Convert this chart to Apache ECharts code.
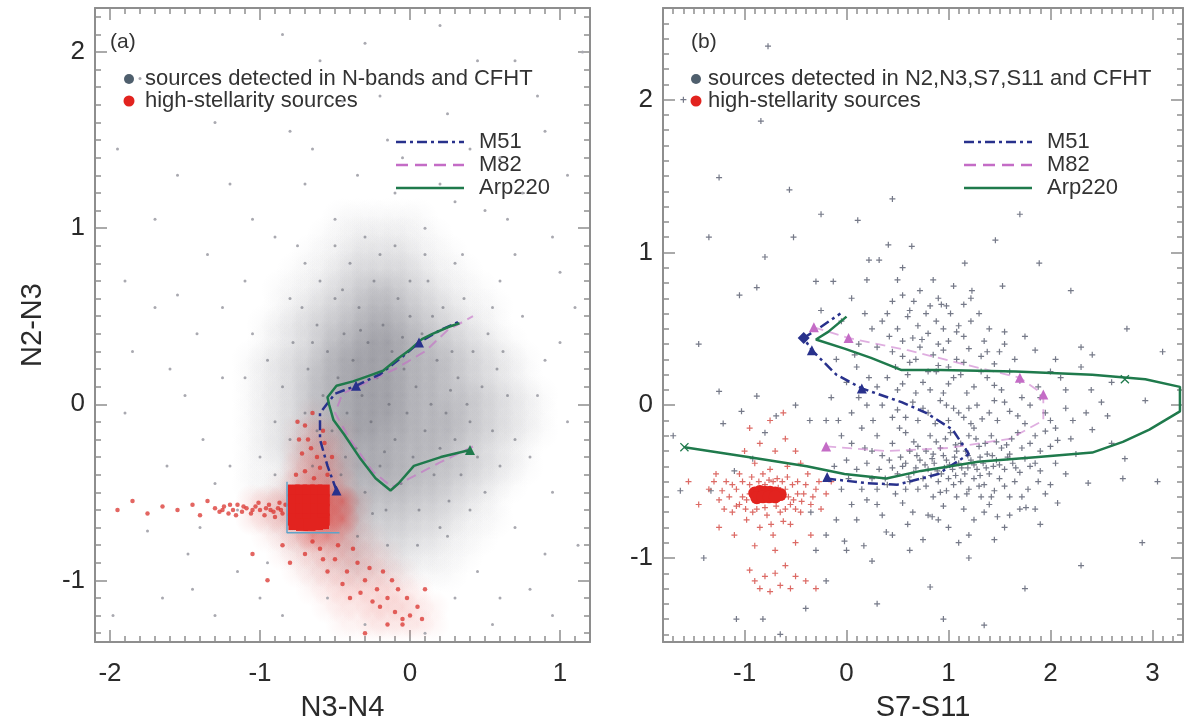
<!DOCTYPE html>
<html>
<head>
<meta charset="utf-8">
<script src="https://cdn.jsdelivr.net/npm/echarts@6/dist/echarts.min.js"></script>
<style>
  html, body { margin: 0; padding: 0; background: #fff; }
  #chart { width: 1193px; height: 727px; }
</style>
</head>
<body>
<div id="chart"></div>
<script>
// ---------- axes ----------
const xRangeA = [-2.1, 1.2];
const yRangeA = [-1.35, 2.25];
const xRangeB = [-1.8, 3.3];
const yRangeB = [-1.55, 2.6];
const xTicksA = [-2, -1, 0, 1];
const yTicksA = [-1, 0, 1, 2];
const xTicksB = [-1, 0, 1, 2, 3];
const yTicksB = [-1, 0, 1, 2];

// ---------- panel (a): source density (cells of 0.1 x 0.1, value 0-9) ----------
// gray field: first column starts at x=-1.2, first row is the cell just below y=1.1
const grayFieldAOrigin = [-1.2, 1.1];
const grayFieldA = [
  "000000011111100000000",
  "000000112222110000000",
  "000001123333211000000",
  "000011234444321100000",
  "000112345665432110000",
  "000123456776543211000",
  "001234567887654321000",
  "001234678998765432100",
  "012345789998776543210",
  "012346789998776543210",
  "012346789998776654321",
  "012346789998777654321",
  "012345789988777654321",
  "012345678887776543210",
  "011234678887766543210",
  "011234567777665432100",
  "001234567666554321000",
  "001223456555443211000",
  "000122345444332110000",
  "000011234333221100000",
  "000001123222111000000"
];
// red (high-stellarity) field: first column x=-1.3, first row just below y=0.0
const redFieldAOrigin = [-1.3, 0.0];
const redFieldA = [
  "000000100000000",
  "000001321000000",
  "000002441000000",
  "000003552000000",
  "000014663000000",
  "002345998200000",
  "002345998200000",
  "000124775210000",
  "000012344321000",
  "000001233332100",
  "000000123333210",
  "000000012233321",
  "000000001122221"
];
const redBlobA = [
  [-0.775, -0.49], [-0.725, -0.49], [-0.675, -0.49], [-0.625, -0.49], [-0.575, -0.49],
  [-0.775, -0.545], [-0.725, -0.545], [-0.675, -0.545], [-0.625, -0.545], [-0.575, -0.545],
  [-0.775, -0.6], [-0.725, -0.6], [-0.675, -0.6], [-0.625, -0.6], [-0.575, -0.6],
  [-0.775, -0.655], [-0.725, -0.655], [-0.675, -0.655], [-0.625, -0.655], [-0.575, -0.655],
  [-0.77, -0.68], [-0.72, -0.685], [-0.67, -0.685], [-0.62, -0.68], [-0.58, -0.675]
];
const redSparseA = [
  // faint tail of the horizontal stellar streak
  [-1.95, -0.6], [-1.85, -0.55], [-1.75, -0.62], [-1.65, -0.58], [-1.55, -0.6],
  [-1.45, -0.57], [-1.4, -0.63], [-1.35, -0.55],
  // streak
  [-1.3, -0.59], [-1.27, -0.61], [-1.24, -0.58], [-1.21, -0.62], [-1.18, -0.6], [-1.15, -0.57], [-1.12, -0.61],
  [-1.09, -0.59], [-1.06, -0.62], [-1.03, -0.58], [-1.0, -0.6], [-0.97, -0.63], [-0.94, -0.57], [-0.91, -0.61],
  [-0.88, -0.59], [-0.85, -0.62], [-0.83, -0.57], [-1.16, -0.63], [-1.01, -0.56], [-0.9, -0.64], [-0.96, -0.59],
  [-1.11, -0.58], [-1.2, -0.57], [-0.87, -0.56], [-1.05, -0.6], [-0.93, -0.6], [-1.25, -0.6], [-0.86, -0.6],
  // above the stellar clump
  [-0.75, -0.1], [-0.68, -0.2], [-0.62, -0.3], [-0.7, -0.38], [-0.58, -0.15], [-0.65, -0.05],
  [-0.55, -0.4], [-0.72, -0.28], [-0.76, -0.4], [-0.6, -0.36], [-0.66, -0.25], [-0.74, -0.2],
  [-0.52, -0.3], [-0.7, -0.12], [-0.64, -0.42], [-0.57, -0.22],
  // tail towards the lower right
  [-0.6, -0.82], [-0.5, -0.88], [-0.42, -0.95], [-0.35, -0.9], [-0.3, -1.0], [-0.22, -1.05],
  [-0.15, -1.1], [-0.1, -1.18], [-0.25, -1.12], [-0.45, -1.02], [-0.55, -0.95], [-0.7, -0.85],
  [0.0, -1.2], [-0.08, -1.05], [-0.38, -0.82], [-0.18, -0.95], [-0.65, -0.78], [-0.48, -0.8],
  [-0.33, -1.07], [-0.2, -1.15], [-0.05, -1.22], [-0.12, -1.0], [-0.27, -0.93], [-0.4, -1.1],
  [-0.58, -0.88], [-0.02, -1.1], [0.05, -1.15], [-0.85, -0.8], [-0.8, -0.9], [-0.95, -1.0],
  [-0.3, -1.3], [0.1, -1.05], [-0.05, -1.25], [-1.05, -0.85], [0.08, -1.22], [-0.15, -1.25]
];
const graySparseA = [
  [-1.95, 1.45], [-1.7, 1.05], [-1.55, 0.62], [-1.85, 0.3], [-1.9, -0.05], [-1.62, -0.35],
  [-1.75, -0.72], [-1.45, -1.05], [-1.98, -1.2], [-1.3, 1.6], [-1.2, 1.25], [-1.35, 0.85],
  [-1.1, 0.7], [-1.42, 0.4], [-1.25, 0.15], [-1.5, 0.05], [-1.38, -0.2], [-1.2, -0.35],
  [-1.48, -0.85], [-1.15, -0.95], [-1.3, -1.2], [-0.95, 1.85], [-0.8, 1.55], [-0.6, 1.95],
  [-0.45, 1.72], [-0.3, 2.05], [-0.15, 1.5], [0.05, 1.85], [0.25, 1.65], [0.45, 1.95],
  [0.6, 1.4], [0.85, 1.75], [1.05, 1.3], [0.95, 0.95], [1.1, 0.55], [0.9, 0.25],
  [1.05, -0.1], [0.95, -0.5], [1.12, -0.8], [0.8, -1.05], [0.55, -1.25], [0.3, -1.1],
  [0.1, -1.3], [-0.3, -1.25], [-0.55, -1.1], [-0.85, -1.2], [-1.05, 1.05], [-0.7, 1.25],
  [-0.35, 1.3], [-0.1, 1.2], [0.2, 1.25], [0.5, 1.1], [0.7, 0.85], [0.75, 0.5],
  [0.8, -0.3], [0.7, -0.7], [0.45, -0.95], [-0.9, 0.95], [-1.05, 0.4], [-1.15, -0.6],
  [-0.95, -0.9], [0.65, 1.05], [-0.5, 1.05], [0.1, 1.0], [0.35, 0.85], [-0.75, 0.9],
  [-1.25, 0.55], [-1.6, 0.2], [-1.8, 1.85], [1.15, 2.0], [0.9, 1.55], [-0.2, 1.75],
  [0.4, 1.45], [-1.55, 1.3], [-0.85, 2.1], [0.2, 2.15], [0.7, 1.95], [1.0, 0.75],
  [-1.9, 0.7], [-1.65, -1.1], [0.95, -1.2], [0.6, 0.7], [-1.0, -1.1], [0.85, 0.05],
  [-1.3, -0.45], [-1.1, 0.15], [-1.0, -0.3], [0.9, -0.85], [1.0, 0.35], [0.75, 1.2],
  [-0.65, 1.45], [-0.05, 1.4], [0.3, 1.15], [-1.4, -0.7], [-1.7, 0.55], [0.6, -1.1]
];
const grainA = [
  [-0.85, 0.1], [-0.8, -0.2], [-0.78, 0.35], [-0.72, 0.55], [-0.7, -0.05], [-0.68, 0.2], [-0.65, -0.35], [-0.62, 0.45],
  [-0.6, 0.7], [-0.58, 0.05], [-0.55, 0.3], [-0.52, -0.15], [-0.5, 0.6], [-0.48, 0.15], [-0.46, -0.4], [-0.44, 0.4],
  [-0.42, -0.05], [-0.4, 0.8], [-0.38, 0.25], [-0.36, -0.25], [-0.34, 0.55], [-0.32, 0.05], [-0.3, -0.5], [-0.28, 0.35],
  [-0.26, -0.1], [-0.24, 0.7], [-0.22, 0.15], [-0.2, -0.35], [-0.18, 0.45], [-0.16, -0.6], [-0.14, 0.0], [-0.12, 0.3],
  [-0.1, -0.2], [-0.08, 0.6], [-0.06, -0.45], [-0.04, 0.2], [-0.02, -0.05], [0.0, 0.5], [0.02, -0.3], [0.04, 0.1],
  [0.06, -0.6], [0.08, 0.4], [0.1, -0.15], [0.12, 0.7], [0.14, 0.0], [0.16, -0.4], [0.18, 0.25], [0.2, -0.25],
  [0.22, 0.55], [0.24, -0.05], [0.26, -0.55], [0.28, 0.3], [0.3, -0.2], [0.32, 0.15], [0.34, -0.4], [0.36, 0.6],
  [0.38, 0.0], [0.4, -0.1], [0.42, 0.3], [0.45, -0.3], [0.48, 0.1], [0.5, -0.5], [0.52, 0.4], [0.55, -0.15],
  [0.58, 0.2], [0.6, -0.35], [0.65, 0.05], [0.7, -0.2], [-0.9, -0.4], [-0.95, 0.25], [-0.75, -0.55], [-0.55, -0.7],
  [-0.35, -0.75], [-0.15, -0.8], [0.05, -0.8], [0.25, -0.75], [-0.5, 0.9], [-0.3, 0.95], [-0.1, 0.9], [0.1, 0.85],
  [-0.7, 0.8], [0.3, 0.8], [-0.62, -0.15], [-0.33, 0.42], [-0.17, -0.27], [-0.05, 0.38], [0.15, 0.5], [0.27, 0.08],
  [-0.43, -0.3], [-0.25, -0.62], [0.4, -0.6], [0.55, 0.55], [-0.8, 0.6], [-0.9, -0.1], [0.0, 0.7], [-0.45, 0.65],
  [0.2, -0.7], [-0.65, 0.35], [0.62, 0.3], [-0.2, 0.85]
];

// ---------- panel (a): redshift tracks ----------
const m51A = [[-0.49, -0.49], [-0.55, -0.35], [-0.6, -0.2], [-0.6, -0.05], [-0.5, 0.06], [-0.36, 0.105],
  [-0.2, 0.17], [-0.05, 0.27], [0.06, 0.35], [0.2, 0.42], [0.33, 0.47]];
const m82A = [[0.42, -0.24], [0.2, -0.33], [0.0, -0.42], [-0.12, -0.47], [-0.25, -0.38], [-0.4, -0.2],
  [-0.5, -0.05], [-0.45, 0.06], [-0.3, 0.12], [-0.1, 0.2], [0.1, 0.3], [0.25, 0.42], [0.42, 0.5]];
const arpA = [[0.4, -0.26], [0.205, -0.3], [0.026, -0.35], [-0.077, -0.45], [-0.13, -0.49],
  [-0.23, -0.42], [-0.33, -0.31], [-0.44, -0.17], [-0.51, -0.09], [-0.54, 0.0], [-0.55, 0.04],
  [-0.49, 0.105], [-0.38, 0.13], [-0.28, 0.16], [-0.18, 0.19], [-0.08, 0.26], [0.0, 0.31],
  [0.08, 0.37], [0.15, 0.4], [0.26, 0.44], [0.33, 0.46]];
const boxA = [[-0.82, -0.44], [-0.82, -0.73], [-0.47, -0.73]];
const m51MarkA = [[-0.49, -0.49], [-0.36, 0.105], [0.06, 0.35]];
const arpMarkA = [[0.4, -0.26]];
const labelsA = [
  ["z=3.0", 0.2, 0.57, "m51"], ["z=3.0", 0.62, 0.57, "m82"], ["z=2.0", 0.03, 0.47, "m51"],
  ["z=2.0", 0.36, 0.49, "m82"], ["z=3.0", 0.56, 0.4, "arp"], ["z=2.0", 0.28, 0.35, "arp"],
  ["z=1.0", -0.4, 0.23, "m51"], ["z=1.0", -0.05, 0.13, "arp"], ["z=1.0", 0.08, -0.45, "m82"],
  ["z=0.0", -0.51, -0.34, "m51"], ["z=0.0", 0.59, -0.18, "m82"], ["z=0.0", 0.64, -0.32, "arp"]
];

// ---------- panel (b): sources ----------
const grayB = [
  // upper part of the cloud
  [0.55, 0.72], [0.72, 0.75], [0.9, 0.7], [1.05, 0.78], [0.62, 0.62], [0.82, 0.65], [1.15, 0.66], [0.45, 0.68], [1.3, 0.6],
  [0.35, 0.55], [0.5, 0.5], [0.6, 0.58], [0.7, 0.52], [0.78, 0.6], [0.88, 0.55], [0.95, 0.5], [1.02, 0.6], [1.1, 0.52],
  [1.22, 0.55], [1.4, 0.5], [0.42, 0.45], [0.65, 0.44], [0.8, 0.47], [1.0, 0.42], [1.15, 0.45], [1.35, 0.42], [1.55, 0.48],
  [1.75, 0.45], [0.25, 0.5], [-0.05, 0.55],
  [0.3, 0.38], [0.45, 0.35], [0.55, 0.32], [0.72, 0.38], [0.85, 0.33], [0.95, 0.36], [1.08, 0.3], [1.2, 0.37], [1.32, 0.32],
  [1.5, 0.35], [1.65, 0.3], [1.85, 0.36], [2.05, 0.3], [2.3, 0.38], [0.62, 0.28], [0.9, 0.26], [1.45, 0.27],
  [0.4, 0.18], [0.6, 0.2], [0.75, 0.15], [0.88, 0.22], [1.0, 0.14], [1.12, 0.2], [1.25, 0.12], [1.38, 0.18], [1.52, 0.1],
  [1.7, 0.16], [1.88, 0.12], [2.1, 0.18], [2.4, 0.1], [0.5, 0.1], [0.95, 0.08], [1.6, 0.22], [0.3, 0.12],
  [0.55, 0.14], [0.68, 0.08], [0.82, 0.1], [1.05, 0.18], [1.18, 0.08], [1.32, 0.22], [1.45, 0.13], [0.48, 0.25],
  [0.68, 0.3], [0.8, 0.22], [1.0, 0.25], [1.15, 0.28], [0.55, 0.42], [0.74, 0.43], [0.9, 0.4], [1.08, 0.48],
  [0.66, 0.68], [0.85, 0.82], [0.98, 0.65], [0.4, 0.6], [1.22, 0.7], [0.5, 0.82], [1.38, 0.35], [1.55, 0.4],
  // middle
  [0.35, 0.0], [0.5, -0.03], [0.65, 0.02], [0.8, -0.05], [0.92, 0.03], [1.05, -0.02], [1.15, -0.08], [1.28, 0.0], [1.4, -0.05],
  [1.55, 0.02], [1.68, -0.07], [1.8, 0.0], [1.95, -0.05], [2.15, -0.02], [2.5, 0.02], [0.7, -0.1], [1.0, -0.1], [1.22, -0.12],
  [1.48, -0.1], [1.75, -0.12], [2.0, -0.1], [0.45, -0.08],
  [0.58, -0.08], [0.75, -0.02], [0.87, -0.12], [0.98, 0.0], [1.1, -0.05], [1.2, -0.02], [1.33, -0.09], [1.45, 0.03],
  [1.6, -0.04], [1.72, 0.05], [1.9, 0.05], [2.05, -0.15], [2.35, -0.05], [2.15, 0.1], [2.0, 0.22], [2.3, 0.25],
  [0.3, -0.2], [0.45, -0.25], [0.58, -0.18], [0.7, -0.27], [0.82, -0.2], [0.92, -0.28], [1.02, -0.18], [1.12, -0.25], [1.2, -0.2],
  [1.3, -0.27], [1.42, -0.2], [1.52, -0.28], [1.62, -0.22], [1.72, -0.28], [1.85, -0.2], [2.0, -0.27], [2.2, -0.22], [2.6, -0.25],
  [0.25, -0.3], [0.62, -0.3], [0.85, -0.32], [1.08, -0.3], [1.38, -0.32], [1.6, -0.32], [1.9, -0.3], [0.52, -0.15], [1.25, -0.15],
  [1.95, -0.17], [0.66, -0.24], [0.78, -0.3], [0.88, -0.24], [0.97, -0.22], [1.07, -0.26], [1.17, -0.3], [1.27, -0.22],
  [1.36, -0.25], [1.47, -0.24], [1.57, -0.26], [1.68, -0.18], [1.8, -0.25], [2.25, -0.32],
  // dense lower band
  [0.2, -0.38], [0.32, -0.42], [0.42, -0.36], [0.5, -0.45], [0.58, -0.38], [0.66, -0.44], [0.72, -0.36], [0.8, -0.42], [0.86, -0.38],
  [0.93, -0.45], [0.98, -0.36], [1.04, -0.42], [1.1, -0.38], [1.16, -0.45], [1.22, -0.36], [1.28, -0.42], [1.34, -0.38], [1.4, -0.45],
  [1.47, -0.36], [1.55, -0.42], [1.63, -0.38], [1.7, -0.44], [1.8, -0.4], [1.9, -0.43], [2.05, -0.38], [0.38, -0.48], [0.62, -0.5],
  [0.75, -0.48], [0.9, -0.5], [1.0, -0.48], [1.12, -0.5], [1.25, -0.48], [1.35, -0.52], [1.5, -0.48], [1.65, -0.5], [0.1, -0.42],
  [0.0, -0.36], [0.55, -0.4], [0.83, -0.46], [1.07, -0.46], [1.31, -0.46], [0.68, -0.41], [0.96, -0.41], [1.19, -0.41], [1.44, -0.4],
  [0.35, -0.33], [0.45, -0.41], [0.53, -0.34], [0.61, -0.47], [0.69, -0.33], [0.77, -0.39], [0.84, -0.35], [0.89, -0.43],
  [0.95, -0.33], [1.01, -0.39], [1.06, -0.34], [1.13, -0.41], [1.19, -0.33], [1.25, -0.39], [1.31, -0.34], [1.37, -0.41],
  [1.43, -0.33], [1.5, -0.39], [1.58, -0.34], [1.66, -0.41], [1.75, -0.35], [1.85, -0.38], [0.4, -0.52], [0.58, -0.55],
  [0.78, -0.53], [0.92, -0.57], [1.05, -0.52], [1.18, -0.58], [1.3, -0.53], [1.42, -0.6], [1.55, -0.53], [1.72, -0.6],
  [1.88, -0.5], [2.0, -0.52], [2.15, -0.45],
  [0.3, -0.55], [0.48, -0.58], [0.7, -0.55], [0.85, -0.6], [0.98, -0.56], [1.08, -0.6], [1.2, -0.55], [1.32, -0.6], [1.45, -0.56],
  [1.6, -0.6], [1.78, -0.55], [1.95, -0.58], [0.55, -0.64], [0.95, -0.66], [1.15, -0.68], [1.4, -0.65], [1.7, -0.68], [0.2, -0.62],
  [0.1, -0.75], [0.35, -0.72], [0.6, -0.78], [0.8, -0.72], [1.0, -0.8], [1.25, -0.75], [1.55, -0.8], [1.9, -0.78], [0.45, -0.85],
  [0.75, -0.88], [1.1, -0.9], [1.45, -0.88], [0.25, -0.48], [0.15, -0.55], [0.3, -0.65], [0.65, -0.7], [0.9, -0.75],
  [1.2, -0.85], [1.35, -0.7], [1.6, -0.72], [1.85, -0.68],
  // left of the cloud
  [-0.15, 0.05], [0.05, -0.05], [-0.05, -0.2], [0.1, 0.25], [0.15, -0.15], [-0.2, -0.1], [0.0, 0.15], [0.2, 0.0], [-0.1, 0.3],
  [0.12, 0.4], [0.18, 0.6], [0.05, 0.7], [-0.25, 0.62], [0.2, 0.82], [-0.12, -0.4], [-0.05, -0.55], [0.05, -0.65], [-0.1, -0.75],
  [-0.2, -0.85], [0.0, -0.95], [0.25, -1.02], [-0.3, -0.95], [-0.35, -0.7], [0.05, -0.25], [0.12, 0.05], [0.22, 0.18],
  [0.26, -0.1], [0.08, 0.33], [-0.08, -0.1], [0.02, -0.48], [0.18, -0.28],
  // scattered sources
  [-0.77, 2.35], [-0.84, 1.86], [-1.25, 1.49], [-0.56, 1.41], [0.11, 1.21], [-0.52, 1.1], [0.41, 1.05], [0.64, 1.04], [0.22, 0.95],
  [0.32, 0.95], [1.46, 1.08], [1.89, 0.93], [1.16, 0.93], [-0.8, 0.97], [-1.05, 0.72], [-0.88, 0.77], [-0.3, 0.81], [-0.13, 0.81],
  [1.53, 0.78], [1.23, 0.75], [0.93, 0.66], [2.41, 0.33], [2.93, 0.03], [-1.25, 0.09], [-1.03, -0.04], [-1.21, -0.12], [-0.88, 0.06],
  [-0.69, -0.07], [-0.8, -0.18], [-0.5, 0.0], [-0.36, -0.1], [-0.92, -0.35], [-1.1, -0.43], [-1.33, -0.56], [-1.63, -0.56],
  [-0.02, -0.89], [0.17, -0.92], [0.39, -0.83], [0.62, -0.95], [0.82, -1.19], [0.95, -1.4], [1.35, -1.44], [1.2, -1.0], [0.84, -0.73],
  [1.48, -0.73], [1.76, -0.67], [2.07, -0.64], [2.37, -0.51], [2.73, -0.35], [2.71, -0.48], [2.56, -0.07], [2.41, -0.16], [2.22, -0.1],
  [2.07, -0.23], [-0.65, -1.5], [-1.08, -1.4], [-0.82, -1.4], [-0.4, -1.33], [-1.6, 2.0], [-1.35, 1.1], [-0.25, 1.25], [0.45, 1.35],
  [1.7, 1.25], [2.2, 0.75], [2.75, 0.5], [3.05, -0.5], [2.9, -0.9], [2.3, -1.05], [1.75, -1.2], [0.3, -1.3], [-0.2, -1.15],
  [-1.45, 0.4], [-1.7, -0.2], [-1.4, -1.0], [0.55, 0.9], [2.6, 0.15], [3.1, 0.35]
];
const redB = [
  [-1.35, -0.55], [-1.25, -0.62], [-1.18, -0.5], [-1.12, -0.7], [-1.05, -0.45], [-1.02, -0.6], [-0.98, -0.75], [-0.95, -0.52],
  [-0.9, -0.38], [-0.88, -0.68], [-0.85, -0.8], [-0.82, -0.45], [-0.78, -0.72], [-0.75, -0.42], [-0.72, -0.85], [-0.68, -0.48],
  [-0.65, -0.7], [-0.6, -0.55], [-0.58, -0.4], [-0.55, -0.78], [-0.52, -0.62], [-0.48, -0.5], [-0.45, -0.7], [-0.42, -0.58],
  [-0.38, -0.45], [-0.35, -0.65], [-0.3, -0.55], [-0.25, -0.68], [-0.2, -0.58], [-0.15, -0.5], [-1.0, -0.3], [-0.85, -0.25],
  [-0.7, -0.3], [-0.6, -0.22], [-0.5, -0.3], [-0.95, -0.15], [-0.75, -0.1], [-0.62, -0.05], [-1.1, -0.85], [-0.9, -0.92],
  [-0.7, -0.95], [-0.5, -0.9], [-0.35, -0.85], [-0.95, -1.08], [-0.9, -1.15], [-0.85, -1.2], [-0.8, -1.12], [-0.75, -1.22],
  [-0.7, -1.1], [-0.65, -1.18], [-0.6, -1.05], [-0.55, -1.2], [-0.5, -1.12], [-0.4, -1.15], [-0.3, -1.2], [-1.25, -0.8],
  [-1.45, -0.65], [-1.55, -0.5], [-0.88, -0.55], [-0.66, -0.6], [-1.08, -0.55], [-0.45, -0.38], [-0.98, -0.62], [-0.55, -0.65],
  [-0.72, -0.5], [-0.82, -0.62], [-1.15, -0.6], [-1.02, -0.5], [-0.6, -0.68], [-0.48, -0.58],
  [-1.3, -0.5], [-1.22, -0.56], [-1.12, -0.52], [-1.08, -0.66], [-0.99, -0.68], [-0.93, -0.47], [-0.9, -0.62], [-0.86, -0.5],
  [-0.8, -0.67], [-0.76, -0.49], [-0.69, -0.66], [-0.63, -0.5], [-0.57, -0.6], [-0.53, -0.52], [-0.5, -0.68], [-0.44, -0.63],
  [-0.4, -0.52], [-0.33, -0.6], [-0.27, -0.5], [-1.2, -0.68], [-1.28, -0.45], [-0.92, -0.7], [-0.74, -0.78], [-0.62, -0.76],
  [-0.7, -0.62], [-0.95, -0.58], [-1.05, -0.65], [-0.58, -0.47], [-0.8, -0.52], [-0.67, -0.54]
];
const redBlobB = [
  [-0.9, -0.575], [-0.85, -0.565], [-0.8, -0.57], [-0.75, -0.57], [-0.7, -0.575], [-0.65, -0.585],
  [-0.88, -0.605], [-0.82, -0.6], [-0.76, -0.6], [-0.7, -0.6]
];

// ---------- panel (b): redshift tracks ----------
const m51B = [[-0.2, -0.48], [0.2, -0.51], [0.5, -0.52], [0.9, -0.45], [1.2, -0.32], [1.04, -0.16], [0.78, -0.05],
  [0.54, 0.02], [0.15, 0.11], [-0.1, 0.2], [-0.34, 0.36], [-0.42, 0.44], [-0.28, 0.5], [-0.06, 0.6]];
const m82B = [[-0.2, -0.27], [0.4, -0.3], [1.0, -0.28], [1.6, -0.22], [1.93, -0.1], [1.93, 0.07], [1.7, 0.18],
  [1.2, 0.26], [0.6, 0.36], [0.02, 0.44], [-0.32, 0.51]];
const arpB = [[-1.59, -0.275], [-0.95, -0.34], [-0.39, -0.4], [-0.02, -0.45], [0.39, -0.48], [0.73, -0.43],
  [1.29, -0.37], [1.85, -0.34], [2.41, -0.31], [2.71, -0.24], [2.97, -0.16], [3.27, -0.04], [3.27, 0.12],
  [2.93, 0.17], [2.41, 0.2], [1.66, 0.22], [0.92, 0.23], [0.54, 0.23], [0.24, 0.31], [-0.02, 0.37], [-0.3, 0.43],
  [-0.18, 0.48], [0.0, 0.58]];
const m51MarkB = [[-0.19, -0.47], [0.15, 0.11], [-0.34, 0.36]];
const m51DiamondB = [[-0.42, 0.44]];
const m82MarkB = [[-0.2, -0.27], [0.02, 0.44], [1.7, 0.18], [1.93, 0.07], [-0.32, 0.51]];
const arpMarkB = [[-1.59, -0.275], [2.73, 0.17]];
const labelsB = [
  ["z=3.0", -0.48, 0.3, "m51"], ["z=2.0", -0.4, 0.2, "m51"], ["z=3.0", -0.05, 0.29, "arp"],
  ["z=2.0", 0.26, 0.2, "arp"], ["z=1.0", 0.12, -0.05, "m51"], ["z=1.0", 2.98, -0.02, "arp"],
  ["z=0.0", -1.33, -0.45, "arp"], ["z=0.0", -0.28, -0.61, "m51"]
];

// ---------- styling ----------
const FONT = '"Liberation Sans", Arial, Helvetica, sans-serif';
const FRAME = '#8e8e8e';
const C_M51 = '#28318c';
const C_M82 = '#c46cc6';
const C_ARP = '#1f7a4c';
const LABEL_COLORS = { m51: '#35379e', m82: '#b865b8', arp: '#2c8c55' };
const GRAY_DOT = '#4f5f6d';
const RED = '#e2231f';

function minorTicks(range, majors) {
  const out = [];
  for (let k = Math.ceil(range[0] * 10 - 1e-9); k <= Math.floor(range[1] * 10 + 1e-9); k++) {
    const v = k / 10;
    if (!majors.some(m => Math.abs(m - v) < 1e-6)) out.push(v);
  }
  return out;
}

function axisSet(dir, grid, range, majors, name, nameGap) {
  const minors = minorTicks(range, majors);
  const positions = dir === 'x' ? ['bottom', 'top'] : ['left', 'right'];
  const tickStyle = { color: FRAME, width: 1.5 };
  const list = [];
  positions.forEach((pos, i) => {
    list.push({
      gridIndex: grid, type: 'value', min: range[0], max: range[1], position: pos,
      axisLine: { show: true, onZero: false, lineStyle: { color: FRAME, width: 2 } },
      axisTick: { show: true, inside: true, length: 12, customValues: majors, lineStyle: tickStyle },
      axisLabel: i === 0 ? { show: true, customValues: majors, margin: dir === 'x' ? 19 : 10,
        fontSize: 26, color: '#2a2a2a', fontFamily: FONT } : { show: false },
      splitLine: { show: false },
      name: i === 0 ? name : '', nameLocation: 'middle', nameGap: nameGap,
      nameTextStyle: { fontSize: 29, color: '#2a2a2a', fontFamily: FONT }
    });
    list.push({
      gridIndex: grid, type: 'value', min: range[0], max: range[1], position: pos,
      axisLine: { show: false, onZero: false },
      axisTick: { show: true, inside: true, length: 6, customValues: minors, lineStyle: tickStyle },
      axisLabel: { show: false }, splitLine: { show: false }
    });
  });
  return list;
}

function fieldData(rows, origin) {
  const out = [];
  rows.forEach((row, r) => {
    for (let c = 0; c < row.length; c++) {
      const v = +row[c];
      if (v > 0) out.push([origin[0] + c * 0.1, origin[1] - r * 0.1, v]);
    }
  });
  return out;
}

// each density cell is painted as a soft radial spot so neighbouring cells blend smoothly
function fieldSeries(axisIdx, data, rgb, maxAlpha, spread) {
  return {
    type: 'custom', xAxisIndex: axisIdx, yAxisIndex: axisIdx, z: 1,
    encode: { x: 0, y: 1 }, data: data, silent: true,
    renderItem: function (params, api) {
      const x = api.value(0), y = api.value(1), v = api.value(2);
      const c = api.coord([x + 0.05, y - 0.05]);
      const s = api.size([0.1, 0.1]);
      const r = Math.max(s[0], s[1]) * spread;
      const target = v / 9 * maxAlpha;
      const a0 = Math.min(1, -Math.log(1 - Math.min(target, 0.97)) / (1.8 * spread / 1.25));
      return {
        type: 'circle',
        shape: { cx: c[0], cy: c[1], r: r },
        style: {
          fill: new echarts.graphic.RadialGradient(0.5, 0.5, 0.5, [
            { offset: 0, color: 'rgba(' + rgb + ',' + a0.toFixed(3) + ')' },
            { offset: 1, color: 'rgba(' + rgb + ',0)' }
          ])
        }
      };
    }
  };
}

function dots(axisIdx, data, color, size, symbol, z) {
  return {
    type: 'scatter', xAxisIndex: axisIdx, yAxisIndex: axisIdx, data: data, z: z || 2,
    symbol: symbol || 'circle', symbolSize: size, silent: true,
    itemStyle: { color: color, opacity: 1 }
  };
}

function track(axisIdx, data, color, type, width, opacity) {
  return {
    type: 'line', xAxisIndex: axisIdx, yAxisIndex: axisIdx, data: data, z: 5,
    showSymbol: false, silent: true, smooth: false,
    lineStyle: { color: color, width: width, type: type, opacity: opacity == null ? 1 : opacity }
  };
}

function labelSeries(axisIdx, list) {
  return {
    type: 'scatter', xAxisIndex: axisIdx, yAxisIndex: axisIdx, z: 6, silent: true,
    symbolSize: 1, itemStyle: { opacity: 0 },
    data: list.map(l => ({
      value: [l[1], l[2]], name: l[0],
      label: { show: true, position: 'inside', formatter: '{b}', color: LABEL_COLORS[l[3]],
        fontSize: 21, fontFamily: FONT }
    }))
  };
}

const PLUS = 'path://M4,0H6V4H10V6H6V10H4V6H0V4H4Z';
const CROSS = 'path://M1,0L5,4L9,0L10,1L6,5L10,9L9,10L5,6L1,10L0,9L4,5L0,1Z';

function legendGraphics(ox, textX, dotX, srcText, lineX1, lineX2, lineTextX, tag) {
  const t = (x, y, s, size, color) => ({ type: 'text', x: x, y: y,
    style: { text: s, fill: color || '#333', font: size + 'px ' + FONT, verticalAlign: 'middle', align: 'left' } });
  return [
    t(ox, 42, tag, 21),
    { type: 'circle', shape: { cx: dotX, cy: 79, r: 5 }, style: { fill: GRAY_DOT } },
    t(textX, 79, srcText, 22),
    { type: 'circle', shape: { cx: dotX, cy: 101, r: 5.5 }, style: { fill: RED } },
    t(textX, 101, 'high-stellarity sources', 22),
    { type: 'line', shape: { x1: lineX1, y1: 142, x2: lineX2, y2: 142 },
      style: { stroke: C_M51, lineWidth: 2.5, lineDash: [10, 4, 3, 4] } },
    t(lineTextX, 142, 'M51', 22),
    { type: 'line', shape: { x1: lineX1, y1: 165, x2: lineX2, y2: 165 },
      style: { stroke: C_M82, lineWidth: 2.5, lineDash: [12, 7] } },
    t(lineTextX, 165, 'M82', 22),
    { type: 'line', shape: { x1: lineX1, y1: 188, x2: lineX2, y2: 188 },
      style: { stroke: C_ARP, lineWidth: 2.5 } },
    t(lineTextX, 188, 'Arp220', 22)
  ];
}

const chart = echarts.init(document.getElementById('chart'), null, { renderer: 'canvas' });

const option = {
  backgroundColor: '#ffffff',
  animation: false,
  grid: [
    { left: 95, top: 8, width: 495, height: 639 },
    { left: 663, top: 8, width: 520, height: 639 }
  ],
  xAxis: [].concat(
    axisSet('x', 0, xRangeA, xTicksA, 'N3-N4', 51),
    axisSet('x', 1, xRangeB, xTicksB, 'S7-S11', 51)
  ),
  yAxis: [].concat(
    axisSet('y', 0, yRangeA, yTicksA, 'N2-N3', 48),
    axisSet('y', 1, yRangeB, yTicksB, '', 40)
  ),
  graphic: { elements: [].concat(
    legendGraphics(110, 145, 129, 'sources detected in N-bands and CFHT', 396, 464, 479, '(a)'),
    legendGraphics(691, 708, 696, 'sources detected in N2,N3,S7,S11 and CFHT', 964, 1032, 1047, '(b)')
  ) },
  series: [
    // panel (a)
    fieldSeries(0, fieldData(grayFieldA, grayFieldAOrigin), '118,118,128', 0.6, 1.25),
    dots(0, graySparseA, '#a9a9b0', 3),
    dots(0, grainA, 'rgba(85,88,100,0.5)', 3),
    fieldSeries(0, fieldData(redFieldA, redFieldAOrigin), '222,50,44', 0.62, 1.0),
    dots(0, redSparseA, 'rgba(218,50,44,0.75)', 4.5, 'circle', 3),
    dots(0, redBlobA, RED, 12, 'rect', 3),
    track(0, boxA, '#5fa3c8', 'solid', 1.5),
    track(0, m82A, C_M82, [10, 6], 2, 0.6),
    track(0, m51A, C_M51, [10, 4, 3, 4], 2.5),
    track(0, arpA, C_ARP, 'solid', 2.5),
    dots(0, m51MarkA, C_M51, 10, 'triangle', 6),
    dots(0, arpMarkA, C_ARP, 10, 'triangle', 6),
    labelSeries(0, labelsA),
    // panel (b)
    dots(4, grayB, 'rgba(93,98,115,0.85)', 6, PLUS),
    dots(4, redB, 'rgba(214,80,74,0.85)', 6, PLUS, 3),
    dots(4, redBlobB, RED, 13, 'circle', 3),
    track(4, m82B, C_M82, [10, 6], 1.8, 0.55),
    track(4, m51B, C_M51, [10, 4, 3, 4], 2.5),
    track(4, arpB, C_ARP, 'solid', 2.5),
    dots(4, m51MarkB, C_M51, 10, 'triangle', 6),
    dots(4, m51DiamondB, C_M51, 12, 'diamond', 6),
    dots(4, m82MarkB, C_M82, 10, 'triangle', 6),
    dots(4, arpMarkB, C_ARP, 9, CROSS, 6),
    labelSeries(4, labelsB)
  ]
};
chart.setOption(option);
</script>
</body>
</html>
